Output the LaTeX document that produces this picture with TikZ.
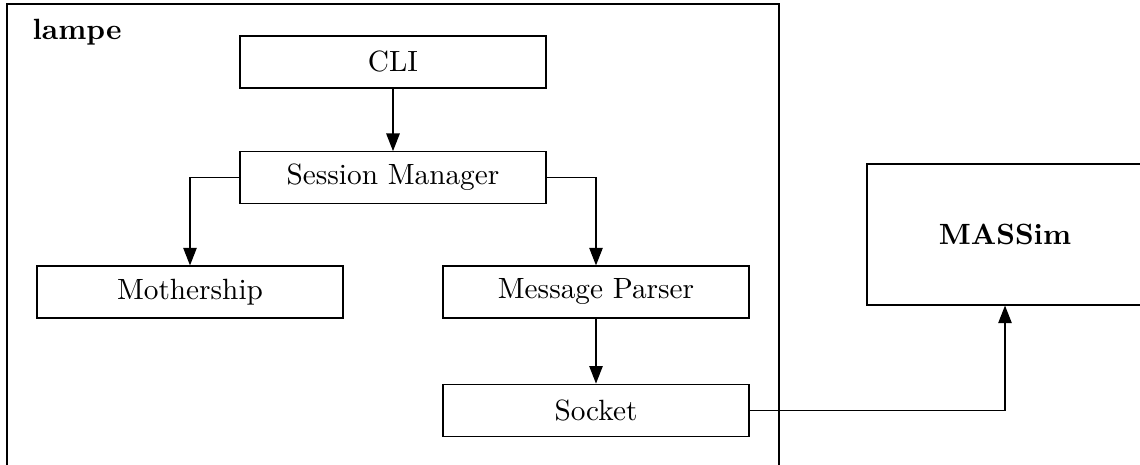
\documentclass[tikz,border=0pt]{standalone}
\usepackage{tikz}
\usetikzlibrary{arrows.meta,positioning}

\begin{document}
\begin{tikzpicture}[
    block/.style={draw, line width=0.4pt, minimum width=3.672cm, minimum height=0.624cm, inner sep=0pt},
    flow/.style={line width=0.4pt, -{Triangle[length=6pt,width=4.6pt]}}
]
\useasboundingbox (0,0) rectangle (13.68,5.58);

% lampe frame (open at the bottom)
\draw[line width=0.5pt] (0.084,-0.2) -- (0.084,5.532) -- (9.348,5.532) -- (9.348,-0.2);
\node[anchor=base west, inner sep=0pt] (lampe) at (0.384,5.1) {\textbf{lampe}};

\node[block] (cli) at (4.716,4.836) {CLI};
\node[block, below=0.75cm of cli] (session) {Session Manager};
\node[block] (mother) at (2.28,2.076) {Mothership};
\node[block] (parser) at (7.152,2.076) {Message Parser};
\node[block, below=0.78cm of parser] (socket) {Socket};

\node[draw, line width=0.4pt, minimum width=3.312cm, minimum height=1.692cm] (massim) at (12.06,2.766) {\textbf{MASSim}};

\draw[flow] (cli) -- (session);
\draw[flow] (session.west) -| (mother.north);
\draw[flow] (session.east) -| (parser.north);
\draw[flow] (parser) -- (socket);
\draw[flow] (socket.east) -| (massim.south);
\end{tikzpicture}
\end{document}
